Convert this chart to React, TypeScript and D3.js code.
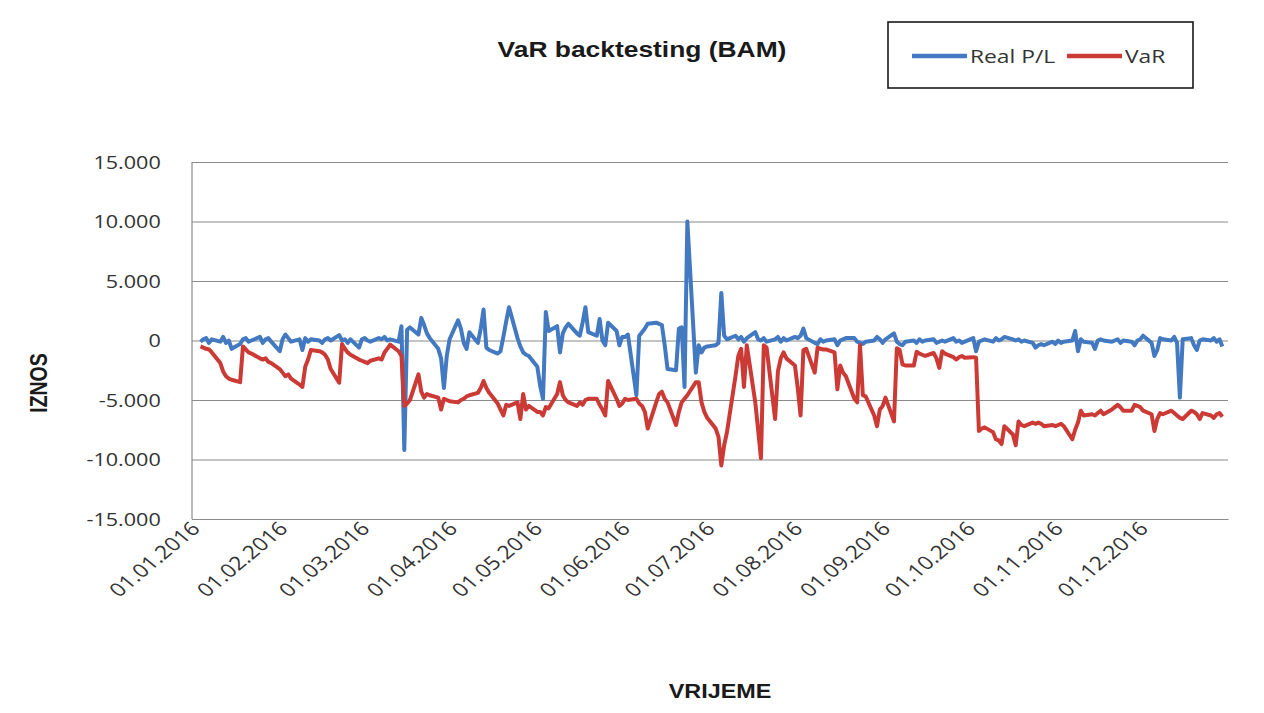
import { useEffect, useRef } from 'react'
import * as d3 from 'd3'

// Excel export, horizontally stretched: every text gets the same x-stretch
const W = 1264
const H = 713
const PLOT = { left: 192, right: 1228, top: 162, bottom: 519 }
const STRETCH = 1.2
const BLUE = '#4279c0'
const RED = '#cc3a35'

// trading days 04.01.2016 – 30.12.2016 (weekdays)
const tradingDays = d3.timeDays(new Date(2016, 0, 4), new Date(2016, 11, 31))
  .filter((d) => d.getDay() !== 0 && d.getDay() !== 6)

const realPL = [
  // jan
  -100, 100, 200, -200, 100, -100, 300, -200, 0, -700, -300, 100, 200, -100, 0, 300, -200, 100, 200, -100,
  // feb
  -900, 100, 500, 200, -100, 100, -800, 200, -100, 100, 0, -200, 100, 200, 0, 450, 0, 100, -200, 100, -600,
  // mar
  100, 200, 0, -100, 200, 100, 300, 0, 100, -100, 1200, -9200, 900, 1100, 500, 1900, 1300, 600, 200, -700, -1500, -4000, -1300,
  // apr
  100, 1700, 1000, -200, -700, 700, -200, 1000, 2600, -600, -800, -1100, -900, 300, 1600, 2800, 200, -500, -1000, -1200, -1300,
  // may
  -2200, -3800, -4900, 2400, 800, 1200, -1000, 600, 1100, 1400, 600, 400, 1500, 2800, 700, 400, 1800, 0, -400, 1500, 800, -400,
  // jun
  300, 300, 500, -4600, 400, 700, 1000, 1400, 1500, 1400, 1300, -400, -2400, -2500, 1000, 1100, -3900, 10000, -2700, -400, -1000, -600,
  // jul
  -500, -400, -200, 4000, 400, 100, 400, 100, 300, -100, 200, 700, 100, 0, 200, -100, 100, 300, -100, 200, 0,
  // aug
  300, 200, 400, 1000, 200, -200, -300, 100, -100, 0, 100, -400, 0, 100, 200, 200, -100, -200, -300, -100, 0, 300, 100,
  // sep
  -200, 100, 600, -100, -300, -400, -100, 0, -200, 100, -100, 0, 100, -200, -100, 0, -100, 200, -100, 0, -200, -100,
  // oct
  200, -900, -100, 0, 100, -100, 200, 0, 100, 300, 100, 0, 100, -100, 0, -200, -600, -400, -300, -400, -100,
  // nov
  -300, 0, -200, -100, 0, 800, -900, 100, -100, -200, -700, 0, 100, 0, -100, 0, 100, -200, 0, -100, -400, 0,
  // dec
  100, 400, -200, -1300, -800, 200, 100, 0, 300, -200, -4800, 100, 200, -400, -800, 0, 100, 0, 200, -100, 100, -500,
]

const valueAtRisk = [
  // jan
  -500, -600, -700, -750, -1000, -1900, -2600, -3000, -3200, -3300, -3500, -500, -750, -1000, -1100, -1500, -1600, -1500, -1800, -1900,
  // feb
  -2400, -2700, -3000, -2850, -3200, -3700, -3900, -2200, -1600, -800, -900, -1000, -1200, -1600, -2400, -3550, -300, -700, -1000, -1200, -1600,
  // mar
  -1700, -1800, -1900, -1700, -1500, -1600, -1000, -700, -350, -900, -1300, -5500, -5300, -5000, -2850, -4300, -4800, -4500, -4600, -4800, -5800, -4900, -5000,
  // apr
  -5100, -5200, -5000, -4900, -4700, -4600, -4400, -4000, -3400, -4000, -4400, -5300, -5800, -6300, -5400, -5500, -5200, -6600, -4500, -5800, -5500,
  // may
  -6000, -6000, -6300, -5600, -5700, -4500, -3500, -4600, -5000, -5200, -5500, -5200, -5400, -5000, -4900, -4900, -5400, -5800, -6300, -3400, -4900, -5500,
  // jun
  -5300, -4900, -5000, -4900, -5300, -5500, -6000, -7400, -5200, -4500, -4300, -4900, -5200, -7100, -6000, -5200, -4900, -4600, -3500, -3500, -5200, -6000,
  // jul
  -6500, -7400, -8100, -10500, -8800, -7700, -3000, -1300, -700, -3900, -400, -5200, -7500, -9900, -400, -600, -6600, -2600, -1500, -1000, -1500,
  // aug
  -2100, -4000, -6300, -800, -700, -2700, -600, -700, -750, -750, -1000, -4100, -2100, -2700, -3000, -4900, -5200, -400, -4600, -4700, -6300, -7200, -5800,
  // sep
  -5500, -4800, -6800, -650, -800, -2000, -2100, -2100, -950, -1100, -1200, -1300, -1050, -1500, -2300, -900, -1100, -1400, -1600, -1400, -1300, -1450,
  // oct
  -1400, -1450, -7600, -7400, -7300, -7700, -8300, -8400, -8700, -7200, -7900, -8800, -6800, -7100, -7200, -6900, -7000, -6900, -7000, -7200, -7100,
  // nov
  -7200, -7100, -7000, -7200, -8300, -7500, -6900, -5900, -6300, -6200, -6300, -6100, -5900, -6200, -5800, -5600, -5400, -5600, -5900, -5900, -5400, -5500,
  // dec
  -5600, -5900, -6200, -7600, -6600, -6100, -6200, -5900, -6100, -6300, -6500, -6600, -5900, -6000, -6200, -6600, -6100, -6300, -6500, -6200, -6100, -6400,
]

const yTicks = [-15000, -10000, -5000, 0, 5000, 10000, 15000]
const xTickLabels = [
  '01.01.2016', '01.02.2016', '01.03.2016', '01.04.2016', '01.05.2016', '01.06.2016',
  '01.07.2016', '01.08.2016', '01.09.2016', '01.10.2016', '01.11.2016', '01.12.2016',
]

const parseDay = d3.timeParse('%d.%m.%Y')
const formatDay = d3.timeFormat('%d.%m.%Y')
const numFormat = d3.formatLocale({ decimal: ',', thousands: '.', grouping: [3], currency: ['', ''], minus: '-' }).format(',')

const LABEL_FONT = "'Open Sans', sans-serif"
const TITLE_FONT = "'Liberation Sans', Arial, sans-serif"

export default function App() {
  const svgRef = useRef<SVGSVGElement>(null)

  useEffect(() => {
    if (!svgRef.current) return
    const svg = d3.select(svgRef.current)
    svg.selectAll('*').remove()

    const x = d3.scaleTime()
      .domain([new Date(2016, 0, 1), new Date(2017, 0, 1)])
      .range([PLOT.left, PLOT.right])
    const y = d3.scaleLinear().domain([-15000, 15000]).range([PLOT.bottom, PLOT.top])

    svg.append('rect').attr('width', W).attr('height', H).attr('fill', '#fff')

    // ── Y axis + grid ─────────────────────────────────────────────────────────
    svg.append('g')
      .attr('transform', `translate(${PLOT.left},0)`)
      .call(d3.axisLeft(y).tickValues(yTicks).tickFormat((d) => numFormat(d as number))
        .tickSize(-(PLOT.right - PLOT.left)).tickPadding(0))
      .call((a) => a.select('.domain').remove())
      .call((a) => a.selectAll('line').attr('stroke', '#8a8a8a').attr('stroke-width', 1.2))
      .call((a) => a.selectAll('text')
        .attr('x', -26).attr('dy', '0.36em')
        .attr('transform', `scale(${STRETCH},1)`)
        .attr('font-family', LABEL_FONT).attr('font-size', 18).attr('fill', '#333'))

    svg.append('line')
      .attr('x1', PLOT.left).attr('x2', PLOT.left)
      .attr('y1', PLOT.top).attr('y2', PLOT.bottom)
      .attr('stroke', '#8a8a8a').attr('stroke-width', 1.2)

    // ── X axis ────────────────────────────────────────────────────────────────
    svg.append('g')
      .attr('transform', `translate(0,${PLOT.bottom})`)
      .call(d3.axisBottom(x).tickValues(xTickLabels.map((s) => parseDay(s) as Date))
        .tickFormat((d) => formatDay(d as Date)).tickSize(0))
      .call((a) => a.select('.domain').attr('stroke', '#8a8a8a').attr('stroke-width', 1.2))
      .call((a) => a.selectAll('text')
        .attr('x', 0).attr('y', 0).attr('dy', '0.35em')
        .attr('text-anchor', 'end')
        .attr('transform', `translate(3,6) scale(${STRETCH},1) rotate(-45)`)
        .attr('font-family', LABEL_FONT).attr('font-size', 19).attr('fill', '#333'))

    // ── Series ────────────────────────────────────────────────────────────────
    const series = [
      { name: 'Real P/L', values: realPL, color: BLUE },
      { name: 'VaR', values: valueAtRisk, color: RED },
    ]
    const line = d3.line<number>()
      .x((_, i) => x(tradingDays[i]))
      .y((v) => y(v))

    series.forEach((s) => {
      svg.append('path')
        .attr('d', line(s.values))
        .attr('fill', 'none').attr('stroke', s.color)
        .attr('stroke-width', 4).attr('stroke-linejoin', 'round')
    })

    // ── Titles ────────────────────────────────────────────────────────────────
    svg.append('text')
      .attr('transform', `translate(642,57) scale(${STRETCH},1)`)
      .attr('text-anchor', 'middle')
      .attr('font-family', TITLE_FONT).attr('font-weight', 'bold').attr('font-size', 22)
      .attr('fill', '#1a1a1a')
      .text('VaR backtesting (BAM)')

    svg.append('text')
      .attr('transform', `translate(720,698) scale(${STRETCH},1)`)
      .attr('text-anchor', 'middle')
      .attr('font-family', TITLE_FONT).attr('font-weight', 'bold').attr('font-size', 19.5)
      .attr('fill', '#1a1a1a')
      .text('VRIJEME')

    svg.append('text')
      .attr('transform', `translate(47,383) scale(${STRETCH},1) rotate(-90)`)
      .attr('text-anchor', 'middle')
      .attr('font-family', TITLE_FONT).attr('font-weight', 'bold').attr('font-size', 19.5)
      .attr('fill', '#1a1a1a')
      .text('IZNOS')

    // ── Legend ────────────────────────────────────────────────────────────────
    const legend = svg.append('g')
    legend.append('rect')
      .attr('x', 888).attr('y', 22).attr('width', 305).attr('height', 66)
      .attr('fill', '#fff').attr('stroke', '#1a1a1a').attr('stroke-width', 1.6)

    const legendItems = legend.selectAll('g.item').data(series).join('g')
      .attr('class', 'item')
      .attr('transform', (_, i) => `translate(${i === 0 ? 912 : 1067},56)`)
    legendItems.append('line')
      .attr('x1', 0).attr('x2', 55).attr('y1', 0).attr('y2', 0)
      .attr('stroke', (d) => d.color).attr('stroke-width', 4.5)
    legendItems.append('text')
      .attr('transform', `translate(58,0) scale(${STRETCH},1)`)
      .attr('dy', '0.36em')
      .attr('font-family', LABEL_FONT).attr('font-size', 19).attr('fill', '#333')
      .text((d) => d.name)
  }, [])

  return (
    <svg
      ref={svgRef}
      width={W}
      height={H}
      style={{ position: 'absolute', left: 0, top: 0, display: 'block' }}
    />
  )
}
